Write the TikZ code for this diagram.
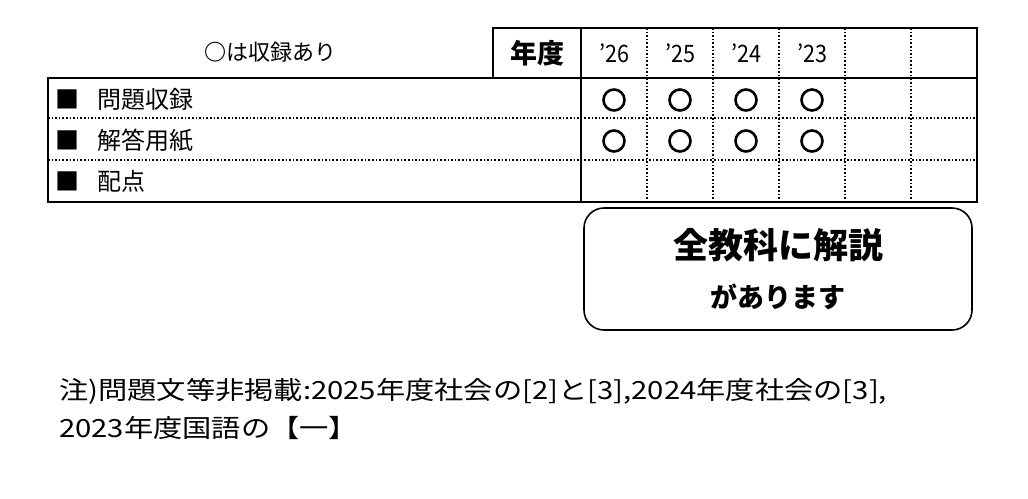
\documentclass[tikz,border=0pt]{standalone}
\usepackage{fontspec}
\setmainfont{Noto Sans CJK JP}
\tikzset{
  frame/.style={line width=2.4pt},
  dotline/.style={line width=1.6pt, dotted},
  okmark/.style={circle, draw, line width=2.6pt, minimum size=21pt, inner sep=0pt},
  yearlab/.style={font=\fontsize{24}{26}\selectfont, xscale=0.9, transform shape},
  rowlab/.style={anchor=west, font=\fontsize{24}{26}\selectfont}
}
\begin{document}
\begin{tikzpicture}[x=1pt,y=-1pt]
\useasboundingbox (0,0) rectangle (1028,498);
% table frame
\draw[frame] (493,28) rectangle (977,78);
\draw[frame] (48,78) rectangle (977,202);
\draw[frame] (581,28) -- (581,202);
\foreach \y in {118,160} \draw[dotline] (48,\y) -- (977,\y);
\foreach \x in {647,713,779,845,911} \draw[dotline] (\x,28) -- (\x,202);
% header
\node (key) at (270,52) {\fontsize{22}{24}\selectfont\bfseries ○\normalfont は収録あり};
\node (nendo) at (537,53) {\fontsize{27}{30}\selectfont\bfseries 年度};
\foreach \t [count=\i] in {'26,'25,'24,'23}
  \node[yearlab] (y\i) at (581+66*\i-33,53) {\t};
% rows
\node[rowlab] (r1) at (52,99) {■\hspace{18pt}問題収録};
\node[rowlab] (r2) at (52,140) {■\hspace{18pt}解答用紙};
\node[rowlab] (r3) at (52,181) {■\hspace{18pt}配点};
\foreach \i in {1,...,4} {
  \node[okmark] (a\i) at (581+66*\i-33,100) {};
  \node[okmark] (b\i) at (581+66*\i-33,141) {};
}
% note box
\draw[line width=1.6pt, rounded corners=20pt] (584,208) rectangle (972,330);
\node (big) at (778,245) {\fontsize{35}{38}\selectfont\bfseries 全教科に解説};
\node (small) at (778,297) {\fontsize{27}{30}\selectfont\bfseries があります};
% footnote
\node[anchor=west, xscale=1.17, transform shape] (n1) at (55,391) {\fontsize{25}{28}\selectfont 注)問題文等非掲載:2025年度社会の[2]と[3],2024年度社会の[3],};
\node[anchor=west, xscale=1.17, transform shape] (n2) at (55,428) {\fontsize{25}{28}\selectfont 2023年度国語の【一】};
\end{tikzpicture}
\end{document}
